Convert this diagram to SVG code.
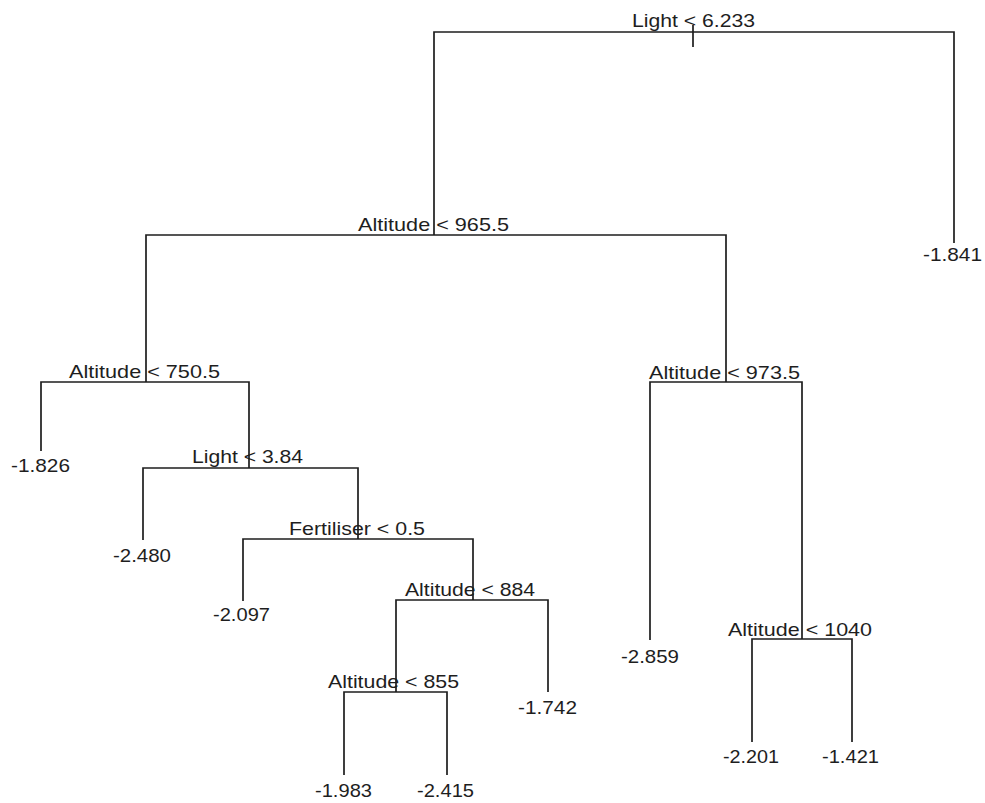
<svg xmlns="http://www.w3.org/2000/svg" width="985" height="803" viewBox="0 0 985 803">
<style>
text{font-family:"Liberation Sans",Arial,sans-serif;font-size:18.5px;fill:#1e1e1e}
.c path{fill:none;stroke:#1e1e1e;stroke-width:1.7}
</style>
<rect width="985" height="803" fill="#fff"/>
<g id="connectors" class="c">
<path d="M693 25 V47"/>
<path d="M693 32 H434 V235"/>
<path d="M693 32 H954 V243"/>
<path d="M434 235 H146 V382"/>
<path d="M434 235 H726 V382"/>
<path d="M146 382 H41 V451"/>
<path d="M146 382 H249 V468"/>
<path d="M249 468 H143 V540"/>
<path d="M249 468 H358 V539"/>
<path d="M358 539 H243 V601"/>
<path d="M358 539 H473 V600"/>
<path d="M473 600 H396 V692"/>
<path d="M473 600 H548 V692"/>
<path d="M396 692 H344 V775"/>
<path d="M396 692 H447 V775"/>
<path d="M726 382 H650 V640"/>
<path d="M726 382 H802 V639"/>
<path d="M802 639 H752 V742"/>
<path d="M802 639 H852 V742"/>
</g>
<g id="n-root"><text x="632" y="27" textLength="123" lengthAdjust="spacingAndGlyphs">Light &lt; 6.233</text></g>
<g id="n-alt965"><text x="358" y="231" textLength="151" lengthAdjust="spacingAndGlyphs">Altitude &lt; 965.5</text></g>
<g id="n-alt750"><text x="69" y="378" textLength="151" lengthAdjust="spacingAndGlyphs">Altitude &lt; 750.5</text></g>
<g id="n-alt973"><text x="649" y="379" textLength="151" lengthAdjust="spacingAndGlyphs">Altitude &lt; 973.5</text></g>
<g id="n-light384"><text x="192" y="463" textLength="111" lengthAdjust="spacingAndGlyphs">Light &lt; 3.84</text></g>
<g id="n-fert"><text x="289" y="535" textLength="136" lengthAdjust="spacingAndGlyphs">Fertiliser &lt; 0.5</text></g>
<g id="n-alt884"><text x="405" y="596" textLength="130" lengthAdjust="spacingAndGlyphs">Altitude &lt; 884</text></g>
<g id="n-alt855"><text x="328" y="688" textLength="131" lengthAdjust="spacingAndGlyphs">Altitude &lt; 855</text></g>
<g id="n-alt1040"><text x="728" y="636" textLength="144" lengthAdjust="spacingAndGlyphs">Altitude &lt; 1040</text></g>
<g id="leaf-1841"><text x="923" y="261" textLength="59" lengthAdjust="spacingAndGlyphs">-1.841</text></g>
<g id="leaf-1826"><text x="11" y="472" textLength="59" lengthAdjust="spacingAndGlyphs">-1.826</text></g>
<g id="leaf-2480"><text x="113" y="562" textLength="58" lengthAdjust="spacingAndGlyphs">-2.480</text></g>
<g id="leaf-2097"><text x="213" y="621" textLength="57" lengthAdjust="spacingAndGlyphs">-2.097</text></g>
<g id="leaf-1742"><text x="518" y="714" textLength="59" lengthAdjust="spacingAndGlyphs">-1.742</text></g>
<g id="leaf-1983"><text x="315" y="797" textLength="57" lengthAdjust="spacingAndGlyphs">-1.983</text></g>
<g id="leaf-2415"><text x="417" y="797" textLength="57" lengthAdjust="spacingAndGlyphs">-2.415</text></g>
<g id="leaf-2859"><text x="621" y="663" textLength="58" lengthAdjust="spacingAndGlyphs">-2.859</text></g>
<g id="leaf-2201"><text x="723" y="763" textLength="56" lengthAdjust="spacingAndGlyphs">-2.201</text></g>
<g id="leaf-1421"><text x="822" y="763" textLength="57" lengthAdjust="spacingAndGlyphs">-1.421</text></g>
</svg>
